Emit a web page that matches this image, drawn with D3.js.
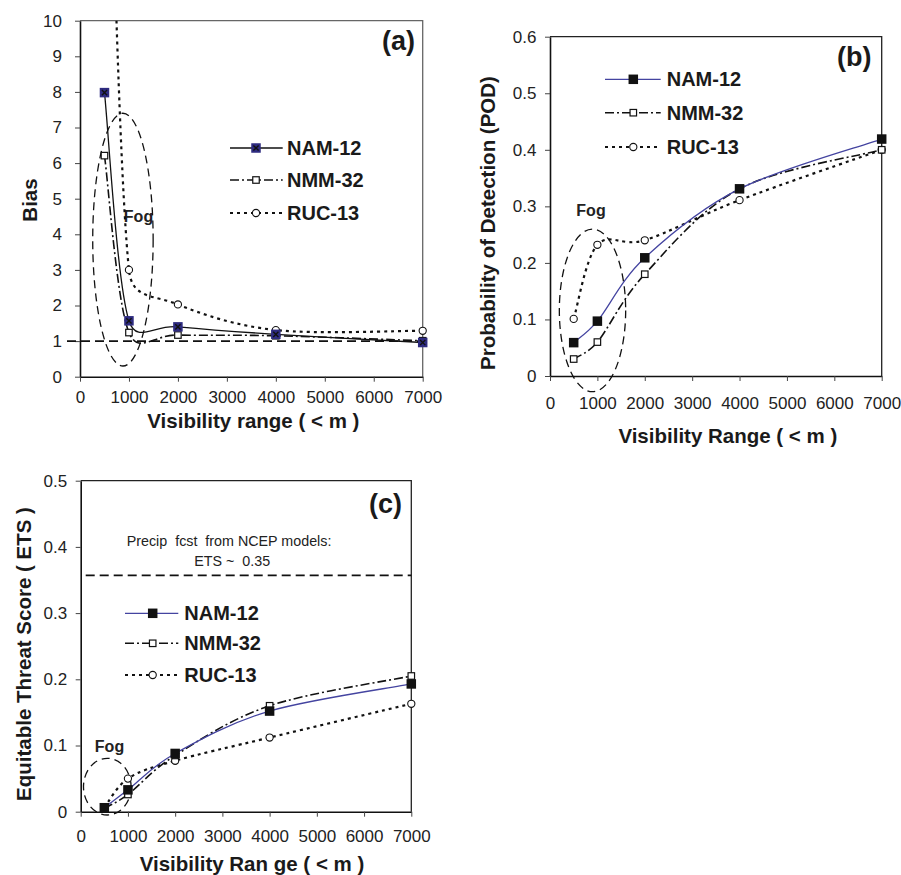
<!DOCTYPE html>
<html><head><meta charset="utf-8">
<script src="https://cdn.jsdelivr.net/npm/d3@7"></script>
<style>
body{margin:0;background:#fff;}
svg{display:block;font-family:"Liberation Sans",Arial,sans-serif;}
</style></head>
<body><svg id="chart" width="901" height="875"></svg>
<script>
// ---------------- DATA ----------------
const visibility = [500, 1000, 2000, 4000, 7000];
const visTicks = [0, 1000, 2000, 3000, 4000, 5000, 6000, 7000];
const seriesNames = ["NAM-12", "NMM-32", "RUC-13"];

const biasNAM = [7.98, 1.57, 1.40, 1.19, 0.96];
const biasNMM = [6.21, 1.24, 1.17, 1.15, 1.01];
const biasRUC = [22, 3.00, 2.03, 1.31, 1.29];
const biasTicks = [0,1,2,3,4,5,6,7,8,9,10];
const biasRef = 1;

const podNAM = [0.059, 0.097, 0.209, 0.331, 0.419];
const podNMM = [0.030, 0.060, 0.180, 0.331, 0.400];
const podRUC = [0.101, 0.232, 0.240, 0.311, 0.400];
const podTicks = [0, 0.1, 0.2, 0.3, 0.4, 0.5, 0.6];

const etsNAM = [0.006, 0.033, 0.088, 0.152, 0.193];
const etsNMM = [0.005, 0.026, 0.085, 0.160, 0.205];
const etsRUC = [0.006, 0.050, 0.077, 0.112, 0.163];
const etsTicks = [0, 0.1, 0.2, 0.3, 0.4, 0.5];
const etsRef = 0.357;

// ---------------- DRAWING ----------------
const svg = d3.select("#chart");
const NAVY = "#2e2b80", NAMLINE = "#4444a0";
const dashDot = "9,3,2,3", dotted = "3,4";

// spreadsheet-style smoothed line (Bezier with capped control points)
function smoothPath(pts) {
  const p = d3.path();
  p.moveTo(pts[0][0], pts[0][1]);
  const dist = (a, b) => Math.hypot(b[0] - a[0], b[1] - a[1]);
  for (let i = 0; i < pts.length - 1; i++) {
    const p0 = pts[i - 1] || pts[i], p1 = pts[i], p2 = pts[i + 1], p3 = pts[i + 2] || pts[i + 1];
    const d12 = dist(p1, p2), d02 = dist(p0, p2), d13 = dist(p1, p3);
    const f1 = d02 > 0 ? Math.min(1 / 6, 0.5 * d12 / d02) : 0;
    const f2 = d13 > 0 ? Math.min(1 / 6, 0.5 * d12 / d13) : 0;
    p.bezierCurveTo(p1[0] + (p2[0] - p0[0]) * f1, p1[1] + (p2[1] - p0[1]) * f1,
                    p2[0] - (p3[0] - p1[0]) * f2, p2[1] - (p3[1] - p1[1]) * f2,
                    p2[0], p2[1]);
  }
  return p.toString();
}

function panel(o) {
  const g = svg.append("g");
  const x = d3.scaleLinear().domain([0, 7000]).range([o.left, o.right]);
  const y = d3.scaleLinear().domain(o.yDomain).range([o.bottom, o.top]);
  const id = "clip" + o.tag;
  svg.append("defs").append("clipPath").attr("id", id)
    .append("rect").attr("x", o.left).attr("y", o.top)
    .attr("width", o.right - o.left + 6).attr("height", o.bottom - o.top);

  g.append("path")
    .attr("d", `M${o.left},${o.top}H${o.right}V${o.bottom}`)
    .attr("fill", "none").attr("stroke", o.frameColor).attr("stroke-width", 1.3);

  const ya = g.append("g").attr("transform", `translate(${o.left},0)`)
    .call(d3.axisLeft(y).tickValues(o.yTicks).tickSize(5).tickSizeOuter(0).tickPadding(o.yPad).tickFormat(o.fmt));
  const xa = g.append("g").attr("transform", `translate(0,${o.bottom})`)
    .call(d3.axisBottom(x).tickValues(visTicks).tickSize(5).tickSizeOuter(0).tickPadding(o.xPad).tickFormat(d3.format("d")));
  [ya, xa].forEach(a => {
    a.select(".domain").attr("stroke", "#111").attr("stroke-width", 1.6);
    a.selectAll(".tick line").attr("stroke", "#444").attr("stroke-width", 1);
    a.selectAll(".tick text").attr("font-size", 17).attr("fill", "#222")
      .attr("font-family", "'Liberation Sans',Arial,sans-serif");
  });

  if (o.ref !== undefined) {
    g.append("line").attr("x1", o.left + o.refStart).attr("x2", o.right)
      .attr("y1", y(o.ref)).attr("y2", y(o.ref))
      .attr("stroke", "#111").attr("stroke-width", 1.6).attr("stroke-dasharray", "9,5");
  }

  g.append("ellipse").attr("cx", x(o.fog.cx)).attr("cy", y(o.fog.cy))
    .attr("rx", x(o.fog.rx) - x(0)).attr("ry", y(0) - y(o.fog.ry))
    .attr("fill", "none").attr("stroke", "#111").attr("stroke-width", 1.3)
    .attr("stroke-dasharray", "8,5");
  g.append("text").attr("x", o.fogLabel[0]).attr("y", o.fogLabel[1])
    .attr("text-anchor", "middle").attr("font-weight", "bold").attr("font-size", 16)
    .attr("fill", "#222").text("Fog");

  const pts = arr => arr.map((v, i) => [x(visibility[i]), y(v)]);
  const lg = g.append("g").attr("clip-path", `url(#${id})`);
  lg.append("path").attr("d", smoothPath(pts(o.ruc))).attr("fill", "none").attr("stroke", "#111")
    .attr("stroke-width", 2.2).attr("stroke-dasharray", dotted);
  lg.append("path").attr("d", smoothPath(pts(o.nmm))).attr("fill", "none").attr("stroke", "#111")
    .attr("stroke-width", 1.6).attr("stroke-dasharray", dashDot);
  lg.append("path").attr("d", smoothPath(pts(o.nam))).attr("fill", "none").attr("stroke", o.namLine)
    .attr("stroke-width", 1.3);

  const inD = v => v <= o.yDomain[1];
  o.ruc.forEach((v, i) => { if (inD(v)) circ(g, x(visibility[i]), y(v)); });
  o.nmm.forEach((v, i) => { if (inD(v)) sq(g, x(visibility[i]), y(v), 6.5, "#fff"); });
  o.nam.forEach((v, i) => { if (inD(v)) namMark(g, x(visibility[i]), y(v), o.namFill, o.namX); });

  const L = o.legend;
  const rows = [L.y0, L.y1, L.y2];
  g.append("line").attr("x1", L.x1).attr("x2", L.x2).attr("y1", rows[0]).attr("y2", rows[0])
    .attr("stroke", o.namLine).attr("stroke-width", 1.3);
  g.append("line").attr("x1", L.x1).attr("x2", L.x2).attr("y1", rows[1]).attr("y2", rows[1])
    .attr("stroke", "#111").attr("stroke-width", 1.6).attr("stroke-dasharray", dashDot);
  g.append("line").attr("x1", L.x1).attr("x2", L.x2).attr("y1", rows[2]).attr("y2", rows[2])
    .attr("stroke", "#111").attr("stroke-width", 2.2).attr("stroke-dasharray", dotted);
  namMark(g, L.xm, rows[0], o.namFill, o.namX);
  sq(g, L.xm, rows[1], 6.5, "#fff");
  circ(g, L.xm, rows[2]);
  seriesNames.forEach((s, i) => {
    g.append("text").attr("x", L.xt).attr("y", rows[i] + 7).attr("font-size", 20)
      .attr("font-weight", "bold").attr("fill", "#1a1a1a").text(s);
  });

  g.append("text").attr("x", o.label[0]).attr("y", o.label[1]).attr("font-size", 27)
    .attr("font-weight", "bold").attr("fill", "#1a1a1a").text(o.labelText);

  g.append("text").attr("x", (o.left + o.right) / 2 + o.xTitleDx).attr("y", o.xTitleY)
    .attr("text-anchor", "middle").attr("font-size", 20.5).attr("font-weight", "bold")
    .attr("fill", "#1a1a1a").style("white-space", "pre").text(o.xTitle);
  g.append("text").attr("transform", `translate(${o.yTitle[0]},${o.yTitle[1]}) rotate(-90)`)
    .attr("text-anchor", "middle").attr("font-size", 20.5).attr("font-weight", "bold")
    .attr("fill", "#1a1a1a").text(o.yTitleText);
  return { g, x, y };
}

function sq(g, cx, cy, s, fill) {
  g.append("rect").attr("x", cx - s / 2).attr("y", cy - s / 2).attr("width", s).attr("height", s)
    .attr("fill", fill).attr("stroke", "#111").attr("stroke-width", 1.2);
}
function circ(g, cx, cy) {
  g.append("circle").attr("cx", cx).attr("cy", cy).attr("r", 3.6)
    .attr("fill", "#fff").attr("stroke", "#111").attr("stroke-width", 1.1);
}
function namMark(g, cx, cy, fill, withX) {
  const s = 9.5;
  g.append("rect").attr("x", cx - s / 2).attr("y", cy - s / 2).attr("width", s).attr("height", s)
    .attr("fill", fill);
  if (withX) {
    const k = 2.6;
    g.append("path").attr("d", `M${cx-k},${cy-k}L${cx+k},${cy+k}M${cx+k},${cy-k}L${cx-k},${cy+k}`)
      .attr("stroke", "#111").attr("stroke-width", 1.4);
  }
}

const fmt1 = d => d === 0 ? "0" : d3.format(".1f")(d);

// (a) Bias
panel({
  tag: "a", left: 80, right: 422.7, top: 20.7, bottom: 376.7, yDomain: [0, 10], yTicks: biasTicks,
  fmt: d3.format("d"), frameColor: "#666", yPad: 13, xPad: 9.5,
  nam: biasNAM, nmm: biasNMM, ruc: biasRUC, namLine: "#111", namFill: NAVY, namX: true,
  ref: biasRef, refStart: -13,
  fog: { cx: 877, cy: 3.85, rx: 617, ry: 3.55 }, fogLabel: [138.5, 222],
  legend: { x1: 230, x2: 282.7, xm: 256, xt: 287, y0: 148, y1: 180, y2: 213 },
  label: [382, 50], labelText: "(a)",
  xTitle: "Visibility range ( < m )", xTitleY: 427.5, xTitleDx: 2,
  yTitle: [37, 200], yTitleText: "Bias"
});

// (b) POD
panel({
  tag: "b", left: 550, right: 881.7, top: 36.7, bottom: 376, yDomain: [0, 0.6], yTicks: podTicks,
  fmt: fmt1, frameColor: "#222", yPad: 8.5, xPad: 16,
  nam: podNAM, nmm: podNMM, ruc: podRUC, namLine: NAMLINE, namFill: "#111", namX: false,
  fog: { cx: 897, cy: 0.116, rx: 700, ry: 0.1438 }, fogLabel: [591, 216],
  legend: { x1: 605, x2: 660.7, xm: 633.3, xt: 666.7, y0: 79.3, y1: 112.7, y2: 147 },
  label: [837, 66], labelText: "(b)",
  xTitle: "Visibility Range ( < m )", xTitleY: 443, xTitleDx: 12,
  yTitle: [495, 223], yTitleText: "Probability of Detection (POD)"
});

// (c) ETS
const pc = panel({
  tag: "c", left: 80.7, right: 411.3, top: 480.7, bottom: 811.7, yDomain: [0, 0.5], yTicks: etsTicks,
  fmt: fmt1, frameColor: "#222", yPad: 8.5, xPad: 13,
  nam: etsNAM, nmm: etsNMM, ruc: etsRUC, namLine: NAMLINE, namFill: "#111", namX: false,
  ref: etsRef, refStart: 5,
  fog: { cx: 563, cy: 0.0378, rx: 504, ry: 0.0428 }, fogLabel: [109.5, 752],
  legend: { x1: 125, x2: 178.3, xm: 152.7, xt: 184.3, y0: 613.3, y1: 643.3, y2: 675 },
  label: [369, 513], labelText: "(c)",
  xTitle: "Visibility Ran ge ( < m )", xTitleY: 871, xTitleDx: 6,
  yTitle: [31, 654], yTitleText: "Equitable Threat Score ( ETS )"
});
pc.g.append("text").attr("x", 126.7).attr("y", 546).attr("font-size", 14.3).attr("fill", "#222")
  .style("white-space", "pre").text("Precip  fcst  from NCEP models:");
pc.g.append("text").attr("x", 194.3).attr("y", 565.7).attr("font-size", 14.3).attr("fill", "#222")
  .style("white-space", "pre").text("ETS ~  0.35");
</script></body></html>
